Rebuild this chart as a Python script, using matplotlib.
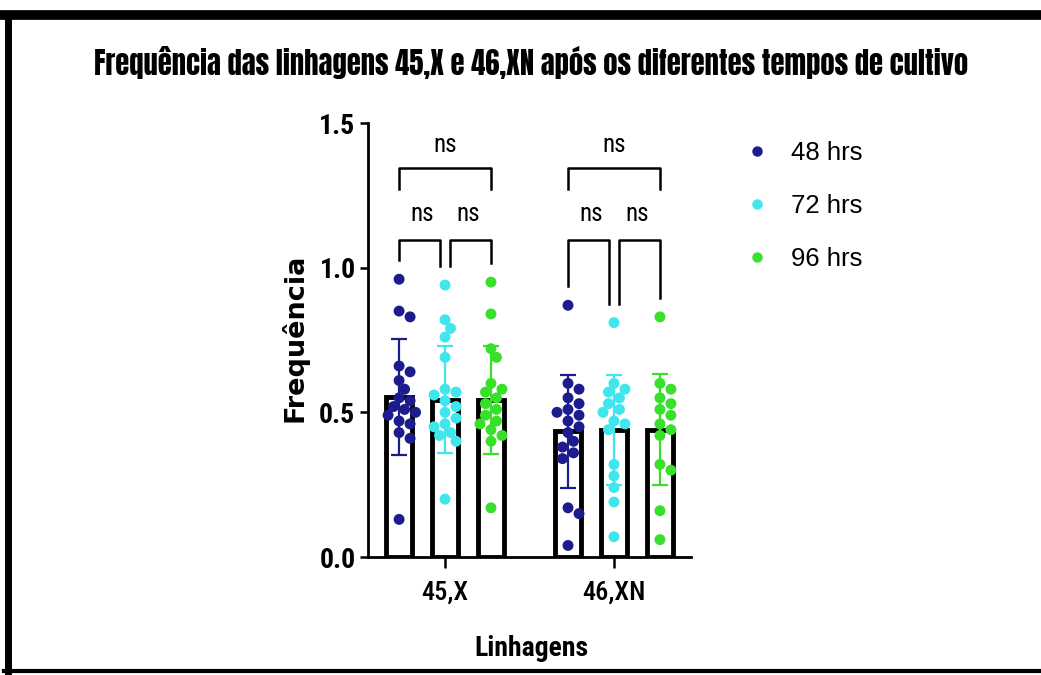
import numpy as np
import matplotlib.pyplot as plt
import matplotlib.font_manager as fm
from matplotlib.lines import Line2D

# ---- DATA

lineages = ["45,X", "46,XN"]
times = ["48 hrs", "72 hrs", "96 hrs"]
colors = ["#1c1c8e", "#3fe6ee", "#38e02c"]

# individual frequencies
x45_48 = [0.96, 0.85, 0.83, 0.66, 0.64, 0.61, 0.58, 0.55, 0.54, 0.52,
          0.51, 0.50, 0.49, 0.47, 0.46, 0.43, 0.41, 0.13]
x45_72 = [0.94, 0.82, 0.79, 0.76, 0.69, 0.58, 0.57, 0.56, 0.54, 0.52,
          0.50, 0.48, 0.46, 0.45, 0.43, 0.42, 0.40, 0.20]
x45_96 = [0.95, 0.84, 0.72, 0.69, 0.60, 0.58, 0.57, 0.55, 0.53, 0.51,
          0.49, 0.47, 0.46, 0.44, 0.42, 0.40, 0.17]
xn_48 = [0.87, 0.60, 0.58, 0.55, 0.53, 0.51, 0.50, 0.49, 0.47, 0.45,
         0.43, 0.40, 0.38, 0.36, 0.34, 0.17, 0.15, 0.04]
xn_72 = [0.81, 0.60, 0.58, 0.57, 0.55, 0.53, 0.51, 0.50, 0.47, 0.46,
         0.44, 0.32, 0.28, 0.24, 0.19, 0.07]
xn_96 = [0.83, 0.60, 0.58, 0.55, 0.53, 0.51, 0.49, 0.46, 0.44, 0.42,
         0.32, 0.30, 0.16, 0.06]

points = [[x45_48, x45_72, x45_96], [xn_48, xn_72, xn_96]]

# bar heights (mean) and error bars (SD) as drawn
means = [[0.553, 0.543, 0.543], [0.434, 0.440, 0.440]]
sds = [[0.200, 0.185, 0.187], [0.195, 0.190, 0.192]]

# ---- FONTS

installed = {f.name for f in fm.fontManager.ttflist}

def pick(*names):
    for n in names:
        if n in installed:
            return n
    return "DejaVu Sans"

COND = pick("Roboto Condensed", "Archivo Narrow", "Sofia Sans Condensed",
            "Saira SemiCondensed")
HEAVY = pick("Anton", "Oswald", COND)
PLAIN = pick("Liberation Sans", "Arimo", "DejaVu Sans")

plt.rcParams['font.family'] = [COND, 'DejaVu Sans']

# ---- FIGURE

fig = plt.figure(figsize=(10.41, 6.75), dpi=100)
renderer = fig.canvas.get_renderer()

# black frame round the picture
fig.add_artist(Line2D([0.004, 1.0], [0.978, 0.978], color="black", lw=7,
                      transform=fig.transFigure))
fig.add_artist(Line2D([0.008, 0.008], [0.0, 0.98], color="black", lw=5,
                      transform=fig.transFigure))
fig.add_artist(Line2D([0.004, 1.0], [0.006, 0.006], color="black", lw=3,
                      transform=fig.transFigure))

title = fig.text(531 / 1041, 0.908,
                 "Frequência das linhagens 45,X e 46,XN após os diferentes tempos de cultivo",
                 ha="center", va="center", fontsize=20,
                 family=[HEAVY, "DejaVu Sans"])
# scale title so it spans the same width as in the reference
w = title.get_window_extent(renderer).width
title.set_fontsize(20 * 873.0 / w)

ax = fig.add_axes([368 / 1041, 1 - 557 / 675, 323 / 1041, 434 / 675])

offs = [-0.272, 0.0, 0.272]
bar_w = 0.15
px_x, px_y = 169.0, 289.0   # pixels per data unit

def swarm(vals, diam=9.5, step=5.5):
    """ deterministic beeswarm offsets in data units """
    placed = []
    out = []
    for v in vals:
        cands = [0]
        for k in range(1, 4):
            cands += [k * step, -k * step]
        for c in cands:
            ok = True
            for (px, py) in placed:
                if (c - px) ** 2 + ((v - py) * px_y) ** 2 < diam ** 2:
                    ok = False
                    break
            if ok:
                break
        placed.append((c, v))
        out.append(c / px_x)
    return np.array(out)

for g in range(len(lineages)):
    for t in range(len(times)):
        xc = g + offs[t]
        ax.bar(xc, means[g][t], width=bar_w, color="white", edgecolor="black",
               linewidth=3.5, zorder=1)
        ax.errorbar(xc, means[g][t], yerr=sds[g][t], color=colors[t], lw=1.6,
                    capsize=5.5, capthick=1.6, zorder=2)
        vals = np.array(points[g][t])
        ax.scatter(xc + swarm(vals), vals, s=62, color=colors[t],
                   edgecolors="none", zorder=3)

# significance brackets
for g in range(len(lineages)):
    xs = [g + o for o in offs]
    tops = [max(points[g][t]) + 0.065 for t in range(3)]
    # big bracket
    ax.plot([xs[0], xs[0], xs[2], xs[2]], [1.273, 1.346, 1.346, 1.273],
            color="black", lw=1.8, clip_on=False)
    ax.text(g, 1.425, "ns", ha="center", va="center", fontsize=18)
    # small brackets
    gap = 0.03
    ax.plot([xs[0], xs[0], xs[1] - gap, xs[1] - gap],
            [tops[0], 1.097, 1.097, tops[1]], color="black", lw=1.8)
    ax.plot([xs[1] + gap, xs[1] + gap, xs[2], xs[2]],
            [tops[1], 1.097, 1.097, tops[2]], color="black", lw=1.8)
    ax.text((xs[0] + xs[1]) / 2, 1.185, "ns", ha="center", va="center", fontsize=18)
    ax.text((xs[1] + xs[2]) / 2, 1.185, "ns", ha="center", va="center", fontsize=18)

ax.set_xlim(-0.456, 1.456)
ax.set_ylim(0, 1.5)
ax.set_yticks([0.0, 0.5, 1.0, 1.5])
ax.set_yticklabels(["0.0", "0.5", "1.0", "1.5"], fontweight="bold", fontsize=20)
ax.set_xticks([0, 1])
ax.set_xticklabels(lineages, fontsize=19, fontweight="medium")

for side in ["top", "right"]:
    ax.spines[side].set_visible(False)
for side in ["left", "bottom"]:
    ax.spines[side].set_linewidth(2.0)
ax.tick_params(axis="y", length=6, width=1.8, pad=3)
ax.tick_params(axis="x", length=8, width=1.8, pad=9)

ax.set_ylabel("Frequência", fontsize=19.5, fontweight="bold",
              family=["DejaVu Sans"])
ax.yaxis.set_label_coords(-0.185, 0.505)
ax.set_xlabel("Linhagens", fontsize=20, fontweight="bold")
ax.xaxis.set_label_coords(0.505, -0.18)

handles = [Line2D([], [], marker="o", ls="none", color=c, markersize=6.5)
           for c in colors]
fig.legend(handles, times, loc="upper left", bbox_to_anchor=(0.693, 0.825),
           frameon=False, prop={"family": PLAIN, "size": 18.5},
           labelspacing=1.13, handletextpad=0.8, handlelength=1.0)

plt.savefig("out.png", dpi=100)
